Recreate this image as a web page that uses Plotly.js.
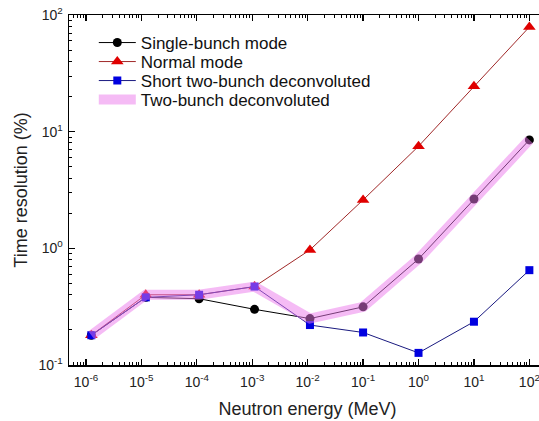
<!DOCTYPE html>
<html>
<head>
<meta charset="utf-8">
<script src="https://cdn.plot.ly/plotly-3.0.1.min.js"></script>
<style>html,body{margin:0;padding:0;overflow:hidden;background:#fff;}</style>
</head>
<body>
<div id="chart"></div>
<script>
// Neutron energy (MeV) for each measured point
const energy = [1.25e-6, 1.2e-5, 1.1e-4, 1.1e-3, 1.1e-2, 1.0e-1, 1.0, 10, 100];
// Time resolution (%)
const singleBunch = [0.18, 0.38, 0.37, 0.30, 0.25, 0.315, 0.81, 2.65, 8.5];
const normalMode = [0.18, 0.40, 0.40, 0.47, 0.97, 2.6, 7.5, 24.5, 79];
const shortTwoBunch = [0.18, 0.38, 0.40, 0.47, 0.22, 0.19, 0.127, 0.235, 0.65];
const twoBunchDeconv = [0.18, 0.40, 0.40, 0.47, 0.25, 0.315, 0.81, 2.65, 8.5];

const xTickVals = [1e-6, 1e-5, 1e-4, 1e-3, 1e-2, 1e-1, 1, 10, 100];
const xTickText = ['10<sup>-6</sup>', '10<sup>-5</sup>', '10<sup>-4</sup>', '10<sup>-3</sup>', '10<sup>-2</sup>', '10<sup>-1</sup>', '10<sup>0</sup>', '10<sup>1</sup>', '10<sup>2</sup>'];
const yTickVals = [0.1, 1, 10, 100];
const yTickText = ['10<sup>-1</sup>', '10<sup>0</sup>', '10<sup>1</sup>', '10<sup>2</sup>'];

function minorVals(lo, hi) {
  const v = [];
  for (let p = lo; p <= hi; p++) for (let d = 2; d <= 9; d++) v.push(d * Math.pow(10, p));
  return v;
}

const traces = [
  {x: energy, y: singleBunch, name: 'Single-bunch mode', mode: 'lines+markers', legend: 'legend',
   line: {color: '#000000', width: 1}, marker: {symbol: 'circle', size: 9, color: '#000000'}},
  {x: energy, y: normalMode, name: 'Normal mode', mode: 'lines+markers', legend: 'legend2',
   line: {color: '#a02828', width: 1}, marker: {symbol: 'triangle-up', size: 11, color: '#e00000'}},
  {x: energy, y: shortTwoBunch, name: 'Short two-bunch deconvoluted', mode: 'lines+markers', legend: 'legend3',
   line: {color: '#1a1a80', width: 1}, marker: {symbol: 'square', size: 8, color: '#0000e0'}},
  {x: energy, y: twoBunchDeconv, name: 'Two-bunch deconvoluted', mode: 'lines', legend: 'legend4',
   line: {color: 'rgba(235,120,235,0.5)', width: 10}}
];

const axisCommon = {
  type: 'log', showgrid: false, zeroline: false, showline: true, linecolor: '#000', linewidth: 1.5,
  mirror: 'ticks', ticks: 'inside', ticklen: 6, tickwidth: 1.2, tickcolor: '#000',
  tickfont: {family: 'Liberation Sans, Arial, sans-serif', size: 14, color: '#222'},
  tickmode: 'array'
};

const legFont = {family: 'Liberation Sans, Arial, sans-serif', size: 17, color: '#111'};
function leg(py) {
  return {x: 0.052, y: 1 - (py - 15) / 350, xanchor: 'left', yanchor: 'middle',
          bgcolor: 'rgba(0,0,0,0)', font: legFont, itemwidth: 37};
}

const layout = {
  width: 570, height: 421,
  margin: {l: 69, r: 24, t: 15, b: 56},
  paper_bgcolor: '#fff', plot_bgcolor: '#fff',
  showlegend: true,
  legend: leg(43), legend2: leg(62), legend3: leg(81), legend4: leg(100),
  xaxis: Object.assign({}, axisCommon, {
    range: [-6.306, 2.3], tickvals: xTickVals, ticktext: xTickText, ticklabelstandoff: 4,
    minor: {tickmode: 'array', tickvals: minorVals(-7, 2), ticks: 'inside', ticklen: 3, tickwidth: 1, tickcolor: '#000', showgrid: false},
    title: {text: 'Neutron energy (MeV)', font: {family: 'Liberation Sans, Arial, sans-serif', size: 18, color: '#222'}, standoff: 13}
  }),
  yaxis: Object.assign({}, axisCommon, {
    range: [-1, 2], tickvals: yTickVals, ticktext: yTickText, ticklabelstandoff: 2,
    minor: {tickmode: 'array', tickvals: minorVals(-1, 1), ticks: 'inside', ticklen: 3, tickwidth: 1, tickcolor: '#000', showgrid: false},
    title: {text: 'Time resolution (%)', font: {family: 'Liberation Sans, Arial, sans-serif', size: 18, color: '#222'}, standoff: 6}
  })
};

Plotly.newPlot('chart', traces, layout, {displayModeBar: false, staticPlot: true});
</script>
</body>
</html>
